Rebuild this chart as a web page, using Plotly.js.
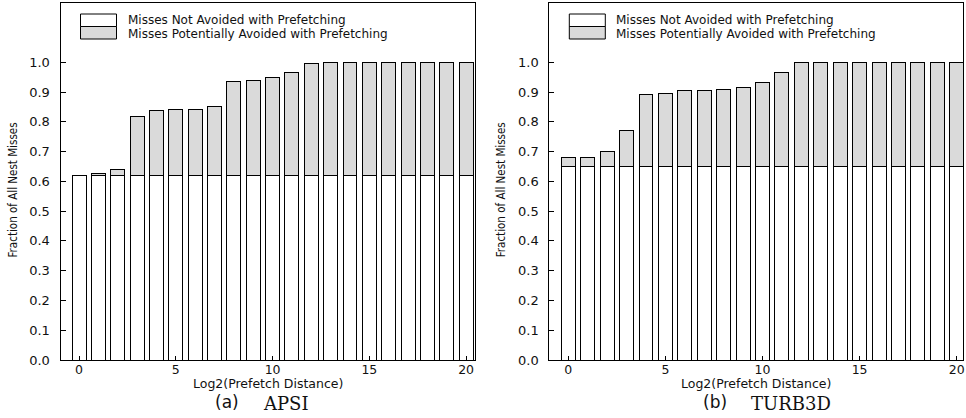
<!DOCTYPE html>
<html>
<head>
<meta charset="utf-8">
<script src="https://cdn.plot.ly/plotly-3.0.1.min.js"></script>
<style>
  html, body { margin: 0; padding: 0; background: #fff; }
  #chart { width: 966px; height: 418px; }
</style>
</head>
<body>
<div id="chart"></div>
<script>
// Log2 of the prefetch distance (x positions of the bars)
const distances = [0, 1, 2, 3, 4, 5, 6, 7, 8, 9, 10, 11, 12, 13, 14, 15, 16, 17, 18, 19, 20];

// APSI: fraction of nest misses not avoided, and total bar height
const apsiNotAvoided = [0.62, 0.62, 0.62, 0.62, 0.62, 0.62, 0.62, 0.62, 0.62, 0.62, 0.62,
                        0.62, 0.62, 0.62, 0.62, 0.62, 0.62, 0.62, 0.62, 0.62, 0.62];
const apsiTotal = [0.620, 0.627, 0.640, 0.818, 0.837, 0.842, 0.842, 0.850, 0.937, 0.938, 0.949,
                   0.965, 0.997, 0.998, 0.998, 0.998, 0.998, 0.998, 1.000, 1.000, 1.000];

// TURB3D: fraction of nest misses not avoided, and total bar height
const turbNotAvoided = [0.65, 0.65, 0.65, 0.65, 0.65, 0.65, 0.65, 0.65, 0.65, 0.65, 0.65,
                        0.65, 0.65, 0.65, 0.65, 0.65, 0.65, 0.65, 0.65, 0.65, 0.65];
const turbTotal = [0.679, 0.679, 0.699, 0.770, 0.893, 0.896, 0.904, 0.904, 0.910, 0.915, 0.931,
                   0.965, 1.000, 1.000, 1.000, 1.000, 1.000, 1.000, 1.000, 1.000, 1.000];

const xTicks = [0, 5, 10, 15, 20];
const yTicks = [0, 0.1, 0.2, 0.3, 0.4, 0.5, 0.6, 0.7, 0.8, 0.9, 1.0];
const yTickText = ['0.0', '0.1', '0.2', '0.3', '0.4', '0.5', '0.6', '0.7', '0.8', '0.9', '1.0'];

const seriesNames = ['Misses Not Avoided with Prefetching', 'Misses Potentially Avoided with Prefetching'];
const panelLetters = ['(a)', '(b)'];
const panelNames = ['APSI', 'TURB3D'];
const xTitle = 'Log2(Prefetch Distance)';
const yTitle = 'Fraction of All Nest Misses';

const W = 966, H = 418;
const px = v => v / W;          // pixel -> paper x
const py = v => 1 - v / H;      // pixel -> paper y

const WHITE = '#ffffff', GREY = '#dadada', INK = '#111111';
const SANS = 'DejaVu Sans, Liberation Sans, Arial, sans-serif';
const BAR_W = 0.72;

function avoided(total, base) {
  return total.map((t, i) => +(t - base[i]).toFixed(4));
}

function barPair(base, total, xa, ya) {
  const line = { color: '#000', width: 1 };
  return [
    { type: 'bar', x: distances, y: base, width: BAR_W, xaxis: xa, yaxis: ya,
      name: seriesNames[0], marker: { color: WHITE, line: line }, showlegend: false, hoverinfo: 'skip' },
    { type: 'bar', x: distances, y: avoided(total, base), width: BAR_W, xaxis: xa, yaxis: ya,
      name: seriesNames[1], marker: { color: GREY, line: line }, showlegend: false, hoverinfo: 'skip' }
  ];
}

const data = [
  ...barPair(apsiNotAvoided, apsiTotal, 'x', 'y'),
  ...barPair(turbNotAvoided, turbTotal, 'x2', 'y2')
];

// panel geometry in pixels
const panels = [
  { left: 60.5, right: 475.0, range: [-0.96, 20.46] },
  { left: 549.3, right: 963.3, range: [-0.98, 20.34] }
];
const plotTop = 2.8, plotBottom = 360;

function xAxis(p, anchor) {
  return {
    domain: [px(p.left), px(p.right)], range: p.range, anchor: anchor,
    tickmode: 'array', tickvals: xTicks, ticks: 'inside', ticklen: 4, tickcolor: '#000',
    showline: true, mirror: true, linecolor: '#000', linewidth: 1,
    showgrid: false, zeroline: false, ticklabelstandoff: -2,
    tickfont: { family: SANS, size: 12.5, color: INK }
  };
}
function yAxis(anchor) {
  return {
    domain: [py(plotBottom), py(plotTop)], range: [0, 1.2], anchor: anchor,
    tickmode: 'array', tickvals: yTicks, ticktext: yTickText, ticks: 'inside', ticklen: 5, tickcolor: '#000',
    showline: true, mirror: true, linecolor: '#000', linewidth: 1,
    showgrid: false, zeroline: false, ticklabelstandoff: 7,
    tickfont: { family: SANS, size: 13, color: INK }
  };
}

const shapes = [];
const annotations = [];

panels.forEach((p, i) => {
  const cx = (p.left + p.right) / 2;
  // legend swatch: white over grey, stacked like the bars
  const sx0 = p.left + 20, sx1 = p.left + 56;
  shapes.push(
    { type: 'rect', xref: 'paper', yref: 'paper', x0: px(sx0), x1: px(sx1), y0: py(26.5), y1: py(14),
      fillcolor: WHITE, line: { color: '#000', width: 1 } },
    { type: 'rect', xref: 'paper', yref: 'paper', x0: px(sx0), x1: px(sx1), y0: py(39), y1: py(26.5),
      fillcolor: GREY, line: { color: '#000', width: 1 } }
  );
  annotations.push(
    { xref: 'paper', yref: 'paper', x: px(sx1 + 10), y: py(19.6), xanchor: 'left', yanchor: 'middle',
      text: seriesNames[0], showarrow: false, borderpad: 0, font: { family: SANS, size: 12, color: INK } },
    { xref: 'paper', yref: 'paper', x: px(sx1 + 10), y: py(34.4), xanchor: 'left', yanchor: 'middle',
      text: seriesNames[1], showarrow: false, borderpad: 0, font: { family: SANS, size: 12, color: INK } },
    // axis titles
    { xref: 'paper', yref: 'paper', x: px(cx), y: py(383.5), xanchor: 'center', yanchor: 'middle',
      text: xTitle, showarrow: false, font: { family: SANS, size: 12.5, color: INK } },
    { xref: 'paper', yref: 'paper', x: px(p.left - 48), y: py(190), xanchor: 'center', yanchor: 'middle',
      text: yTitle, textangle: -90, showarrow: false,
      font: { family: 'DejaVu Sans Condensed, Liberation Sans Narrow, sans-serif', size: 11.5, color: INK } },
    // panel caption
    { xref: 'paper', yref: 'paper', x: px(cx - 27), y: py(402), xanchor: 'right', yanchor: 'middle',
      text: panelLetters[i], showarrow: false, font: { family: SANS, size: 17, color: INK } },
    { xref: 'paper', yref: 'paper', x: px(cx - 7), y: py(403), xanchor: 'left', yanchor: 'middle',
      text: panelNames[i], showarrow: false, font: { family: 'DejaVu Serif, Liberation Serif, serif', size: 18, color: INK } }
  );
});

const layout = {
  width: W, height: H,
  margin: { l: 0, r: 0, t: 0, b: 0 },
  paper_bgcolor: '#fff', plot_bgcolor: '#fff',
  barmode: 'stack', showlegend: false,
  xaxis: xAxis(panels[0], 'y'),
  yaxis: yAxis('x'),
  xaxis2: xAxis(panels[1], 'y2'),
  yaxis2: yAxis('x2'),
  shapes: shapes,
  annotations: annotations
};

Plotly.newPlot('chart', data, layout, { staticPlot: true, displayModeBar: false });
</script>
</body>
</html>
